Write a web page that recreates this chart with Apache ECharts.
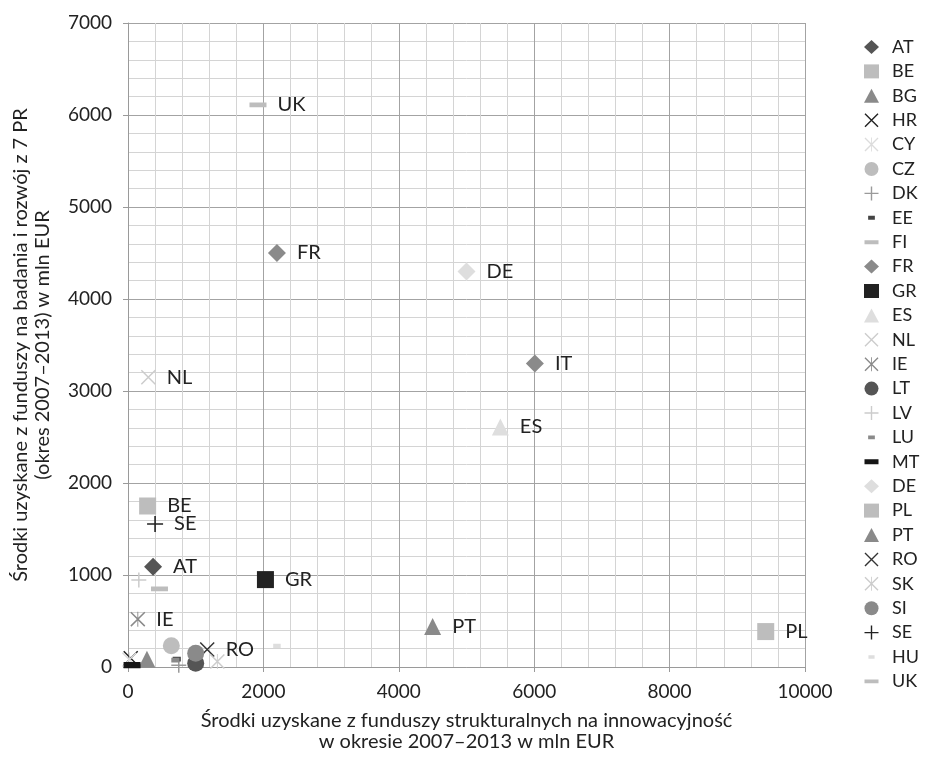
<!DOCTYPE html>
<html>
<head>
<meta charset="utf-8">
<script src="https://cdn.jsdelivr.net/npm/echarts@6/dist/echarts.min.js"></script>
<style>
html,body{margin:0;padding:0;background:#fff;}
#chart{width:942px;height:758px;}
</style>
</head>
<body>
<div id="chart"></div>
<script>
// Data
const countries = ['AT','BE','BG','HR','CY','CZ','DK','EE','FI','FR','GR','ES','NL','IE','LT','LV','LU','MT','DE','PL','PT','RO','SK','SI','SE','HU','UK'];
const structuralFunds = [370,290,280,40,20,640,750,720,465,2200,2030,5500,300,145,1000,160,700,60,5000,9420,4500,1170,1320,1000,400,2200,1920];
const frameworkFunds  = [1090,1750,85,95,80,230,20,85,850,4500,950,2610,3150,520,40,945,75,20,4300,385,440,190,60,150,1555,230,6110];
const labelled = ['AT','BE','FR','GR','ES','NL','IE','PT','PL','RO','SE','DE','IT','UK'];
const xTicks = [0,2000,4000,6000,8000,10000];
const yTicks = [0,1000,2000,3000,4000,5000,6000,7000];
// IT is labelled on the chart but not in the legend; its point is drawn as a separate series
const extraName = 'IT';
const extraX = 6010;
const extraY = 3300;

const P = {
  plus: 'path://M45,0H55V100H45Z M0,45H100V55H0Z',
  cross: 'path://M0,7L7,0L100,93L93,100Z M93,0L100,7L7,100L0,93Z',
  star: 'path://M47,0H53V100H47Z M0,7L7,0L100,93L93,100Z M93,0L100,7L7,100L0,93Z',
  dashLong: 'path://M0,0L0,0Z M100,100L100,100Z M0,36H100V64H0Z',
  dashThick: 'path://M0,0L0,0Z M100,100L100,100Z M0,32H100V68H0Z',
  dashShort: 'path://M0,0L0,0Z M100,100L100,100Z M26,36H74V64H26Z',
  dashTiny: 'path://M0,0L0,0Z M100,100L100,100Z M28,38H72V62H28Z'
};
const styleMap = {
  AT:['diamond','#555555',18], BE:['rect','#bdbdbd',17], BG:['triangle','#8a8a8a',17],
  HR:['cross','#222222',15], CY:['star','#dcdcdc',15], CZ:['circle','#bdbdbd',17],
  DK:['plus','#9a9a9a',15], EE:['dashShort','#444444',17], FI:['dashLong','#bdbdbd',17],
  FR:['diamond','#8a8a8a',18], GR:['rect','#222222',17], ES:['triangle','#dedede',17],
  NL:['cross','#cccccc',15], IE:['star','#8a8a8a',15], LT:['circle','#555555',17],
  LV:['plus','#cccccc',15], LU:['dashShort','#8a8a8a',17], MT:['dashThick','#151515',17],
  DE:['diamond','#dedede',18], PL:['rect','#bdbdbd',17], PT:['triangle','#8a8a8a',17],
  RO:['cross','#333333',15], SK:['star','#cccccc',15], SI:['circle','#8a8a8a',17],
  SE:['plus','#222222',16], HU:['dashTiny','#dedede',17], UK:['dashLong','#bdbdbd',17],
  IT:['diamond','#8a8a8a',18]
};
function sym(k){ return P[k] || k; }

const FONT = 'Lato';
function makeSeries(name, x, y){
  const s = styleMap[name];
  return {
    type:'scatter', name:name,
    symbol: sym(s[0]), symbolSize: s[2],
    itemStyle:{color:s[1], opacity:1},
    data:[[x,y]],
    label:{show: labelled.indexOf(name)>=0, position:'right', distance:11,
      formatter:name, fontFamily:FONT, fontSize:20, color:'#222'},
    emphasis:{disabled:true}
  };
}
const series = countries.map((c,i)=>makeSeries(c, structuralFunds[i], frameworkFunds[i]));
series.push(makeSeries(extraName, extraX, extraY));

const plain = v => String(v);
const chart = echarts.init(document.getElementById('chart'), null, {renderer:'canvas'});
chart.setOption({
  animation:false,
  backgroundColor:'#ffffff',
  textStyle:{fontFamily:FONT},
  grid:{left:128, right:137, top:23, bottom:91, containLabel:false},
  legend:{
    data:countries, orient:'vertical', left:859, top:33,
    itemWidth:15, itemHeight:14, itemGap:6.4, symbolKeepAspect:true,
    textStyle:{fontFamily:FONT, fontSize:18, color:'#222', padding:[0,0,0,8]},
    selectedMode:false
  },
  xAxis:{
    type:'value', min:xTicks[0], max:xTicks[xTicks.length-1], interval:2000,
    axisLine:{show:true, lineStyle:{color:'#9a9a9a', width:1}},
    axisTick:{show:true, length:5, lineStyle:{color:'#9a9a9a'}},
    axisLabel:{fontFamily:FONT, fontSize:19, color:'#222', margin:15, formatter:plain},
    splitLine:{show:true, lineStyle:{color:'#a3a3a3', width:1}},
    minorTick:{show:false, splitNumber:5},
    minorSplitLine:{show:true, lineStyle:{color:'#d4d4d4', width:1}},
    name:'Środki uzyskane z funduszy strukturalnych na innowacyjność\nw okresie 2007–2013 w mln EUR',
    nameLocation:'middle', nameGap:43,
    nameTextStyle:{fontFamily:FONT, fontSize:20, color:'#222', lineHeight:21}
  },
  yAxis:{
    type:'value', min:yTicks[0], max:yTicks[yTicks.length-1], interval:1000,
    axisLine:{show:true, lineStyle:{color:'#9a9a9a', width:1}},
    axisTick:{show:true, length:5, lineStyle:{color:'#9a9a9a'}},
    axisLabel:{fontFamily:FONT, fontSize:19, color:'#222', margin:16, formatter:plain},
    splitLine:{show:true, lineStyle:{color:'#a3a3a3', width:1}},
    minorTick:{show:false, splitNumber:5},
    minorSplitLine:{show:true, lineStyle:{color:'#d4d4d4', width:1}},
    name:'Środki uzyskane z funduszy na badania i rozwój z 7 PR\n(okres 2007–2013) w mln EUR',
    nameLocation:'middle', nameGap:74,
    nameTextStyle:{fontFamily:FONT, fontSize:20, color:'#222', lineHeight:22}
  },
  series:series
});
</script>
</body>
</html>
